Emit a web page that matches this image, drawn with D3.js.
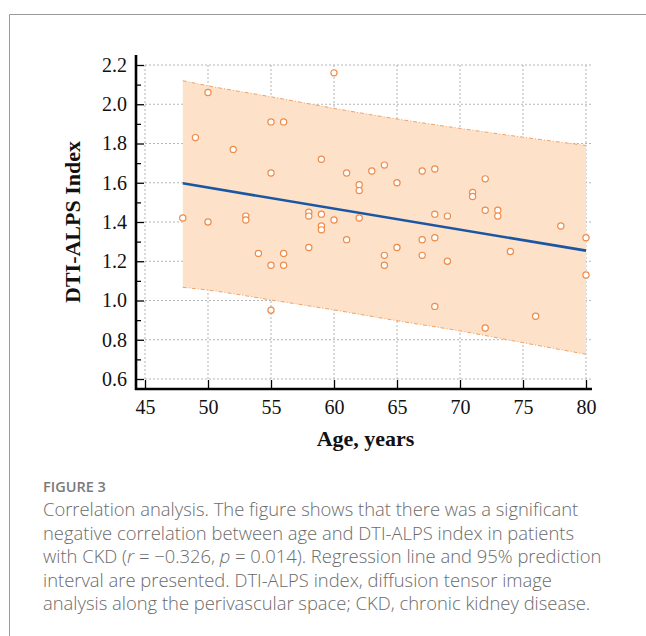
<!DOCTYPE html>
<html>
<head>
<meta charset="utf-8">
<script src="https://cdn.jsdelivr.net/npm/d3@7"></script>
<style>
  body { margin: 0; background: #fff; }
  #chart { width: 646px; height: 636px; }
  .caption { font-family: "Open Sans", "Noto Sans", sans-serif; fill: #6b6b6b; }
  .serif { font-family: "Liberation Serif", "Times New Roman", serif; }
</style>
</head>
<body>
<div id="chart"></div>
<script>
// data (age in years, DTI-ALPS index)
const ages = [48, 49, 50, 50, 52, 53, 53, 54, 55, 55, 55, 55, 56, 56, 56, 58, 58, 58, 59, 59,
  59, 59, 60, 60, 61, 61, 62, 62, 62, 63, 64, 64, 64, 65, 65, 67, 67, 67, 68, 68,
  68, 68, 69, 69, 71, 71, 72, 72, 72, 73, 73, 74, 76, 78, 80, 80]
const alps = [1.42, 1.83, 2.06, 1.40, 1.77, 1.43, 1.41, 1.24, 1.91, 1.65, 1.18, 0.95, 1.91, 1.24, 1.18, 1.45, 1.43, 1.27, 1.72, 1.44,
  1.38, 1.36, 2.16, 1.41, 1.65, 1.31, 1.59, 1.56, 1.42, 1.66, 1.69, 1.23, 1.18, 1.60, 1.27, 1.66, 1.31, 1.23, 1.67, 1.44,
  1.32, 0.97, 1.43, 1.20, 1.55, 1.53, 1.62, 1.46, 0.86, 1.46, 1.43, 1.25, 0.92, 1.38, 1.32, 1.13]

// regression line and 95% prediction band
const fitAges = [48, 80]
const fitValues = [1.597, 1.254]
const bandAges = [48, 50, 55, 60, 65, 70, 75, 80]
const bandUpper = [2.12, 2.094, 2.038, 1.979, 1.925, 1.877, 1.832, 1.79]
const bandLower = [1.067, 1.053, 1.003, 0.952, 0.897, 0.845, 0.785, 0.726]

// ticks
const xTicks = [45, 50, 55, 60, 65, 70, 75, 80]
const yTicks = [0.6, 0.8, 1.0, 1.2, 1.4, 1.6, 1.8, 2.0, 2.2]
const yMinorTicks = [0.7, 0.9, 1.1, 1.3, 1.5, 1.7, 1.9, 2.1]

const captionTitle = 'FIGURE 3'
const captionLines = [
  'Correlation analysis. The figure shows that there was a significant',
  'negative correlation between age and DTI-ALPS index in patients',
  'with CKD (<i>r</i> = \u22120.326, <i>p</i> = 0.014). Regression line and 95% prediction',
  'interval are presented. DTI-ALPS index, diffusion tensor image',
  'analysis along the perivascular space; CKD, chronic kidney disease.'
]

function draw() {
  const dataset = ages.map((a, i) => ({ age: a, alps: alps[i] }))
  const band = bandAges.map((a, i) => ({ age: a, hi: bandUpper[i], lo: bandLower[i] }))
  const fit = fitAges.map((a, i) => ({ age: a, v: fitValues[i] }))

  const xAccessor = d => d.age
  const yAccessor = d => d.alps

  let dimensions = {
    width: 646,
    height: 636,
    margin: { top: 65, right: 60, bottom: 257, left: 145 }
  }
  dimensions.ctrWidth = dimensions.width - dimensions.margin.left - dimensions.margin.right
  dimensions.ctrHeight = dimensions.height - dimensions.margin.top - dimensions.margin.bottom

  const svg = d3.select('#chart')
    .append('svg')
    .attr('width', dimensions.width)
    .attr('height', dimensions.height)

  // frame around the figure
  svg.append('path')
    .attr('d', 'M9.5,636 V14.5 H646')
    .attr('fill', 'none')
    .attr('stroke', '#9a9a9a')
    .attr('stroke-width', 1)

  const ctr = svg.append('g')
    .attr('transform', `translate(${dimensions.margin.left}, ${dimensions.margin.top})`)

  // scales
  const xScale = d3.scaleLinear()
    .domain([45, 80])
    .range([0, dimensions.ctrWidth])
  const yScale = d3.scaleLinear()
    .domain([0.6, 2.2])
    .range([dimensions.ctrHeight, 0])

  // grid
  const grid = ctr.append('g')
    .attr('stroke', '#b5b5b5')
    .attr('stroke-width', 1)
    .attr('stroke-dasharray', '2,2')
  grid.selectAll('.vgrid')
    .data(xTicks)
    .join('line')
    .attr('x1', d => xScale(d)).attr('x2', d => xScale(d))
    .attr('y1', yScale(2.2)).attr('y2', yScale(0.6))
  grid.selectAll('.hgrid')
    .data(yTicks)
    .join('line')
    .attr('x1', xScale(45)).attr('x2', xScale(80) + 6)
    .attr('y1', d => yScale(d)).attr('y2', d => yScale(d))

  // prediction band
  const area = d3.area()
    .x(d => xScale(d.age))
    .y0(d => yScale(d.lo))
    .y1(d => yScale(d.hi))
    .curve(d3.curveMonotoneX)
  ctr.append('path')
    .datum(band)
    .attr('d', area)
    .attr('fill', '#fde2c9')

  const edge = (acc) => d3.line().x(d => xScale(d.age)).y(d => yScale(acc(d))).curve(d3.curveMonotoneX)
  ctr.append('path')
    .datum(band)
    .attr('d', edge(d => d.hi))
    .attr('fill', 'none')
    .attr('stroke', '#f2a266')
    .attr('stroke-width', 1)
    .attr('stroke-dasharray', '4,2,1,2')
  ctr.append('path')
    .datum(band)
    .attr('d', edge(d => d.lo))
    .attr('fill', 'none')
    .attr('stroke', '#f2a266')
    .attr('stroke-width', 1)
    .attr('stroke-dasharray', '4,2,1,2')

  // regression line
  ctr.append('path')
    .datum(fit)
    .attr('d', d3.line().x(d => xScale(d.age)).y(d => yScale(d.v)))
    .attr('fill', 'none')
    .attr('stroke', '#1b56a2')
    .attr('stroke-width', 2.6)

  // draw circles
  ctr.selectAll('circle')
    .data(dataset)
    .join('circle')
    .attr('cx', d => xScale(xAccessor(d)))
    .attr('cy', d => yScale(yAccessor(d)))
    .attr('r', 3.1)
    .attr('fill', '#fff')
    .attr('stroke', '#f08a48')
    .attr('stroke-width', 1.2)

  // axes
  const xAxis = d3.axisBottom(xScale)
    .tickValues(xTicks)
    .tickSizeInner(-9)
    .tickSizeOuter(0)
    .tickPadding(11)
    .tickFormat(d3.format('d'))
  const xAxisGroup = ctr.append('g')
    .call(xAxis)
    .attr('transform', `translate(0, ${dimensions.ctrHeight + 10})`)
    .attr('font-family', null)
    .attr('font-size', null)
    .classed('serif', true)
  xAxisGroup.select('.domain').remove()
  xAxisGroup.selectAll('.tick line').attr('stroke', '#000').attr('stroke-width', 1.3)
  xAxisGroup.selectAll('.tick text')
    .style('font-size', '20px')
    .attr('fill', '#111')
  xAxisGroup.append('line')
    .attr('x1', -10).attr('x2', dimensions.ctrWidth + 6)
    .attr('stroke', '#000').attr('stroke-width', 2.6)

  xAxisGroup.append('text')
    .attr('x', dimensions.ctrWidth / 2)
    .attr('y', 57)
    .attr('fill', '#111')
    .style('font-size', '22px')
    .style('font-weight', 'bold')
    .style('text-anchor', 'middle')
    .text('Age, years')

  const yAxis = d3.axisLeft(yScale)
    .tickValues(yTicks)
    .tickSizeInner(-8)
    .tickSizeOuter(0)
    .tickPadding(9)
    .tickFormat(d3.format('.1f'))
  const yAxisGroup = ctr.append('g')
    .call(yAxis)
    .attr('transform', 'translate(-9, 0)')
    .attr('font-family', null)
    .attr('font-size', null)
    .classed('serif', true)
  yAxisGroup.select('.domain').remove()
  yAxisGroup.selectAll('.tick line').attr('stroke', '#000').attr('stroke-width', 1.3)
  yAxisGroup.selectAll('.tick text')
    .style('font-size', '20px')
    .attr('fill', '#111')

  const yMinor = d3.axisLeft(yScale)
    .tickValues(yMinorTicks)
    .tickSizeInner(-5)
    .tickSizeOuter(0)
    .tickFormat('')
  const yMinorGroup = ctr.append('g')
    .call(yMinor)
    .attr('transform', 'translate(-9, 0)')
  yMinorGroup.select('.domain').remove()
  yMinorGroup.selectAll('.tick line').attr('stroke', '#000').attr('stroke-width', 1.3)

  yAxisGroup.append('line')
    .attr('y1', -10).attr('y2', dimensions.ctrHeight + 11)
    .attr('stroke', '#000').attr('stroke-width', 2.6)

  yAxisGroup.append('text')
    .attr('x', -dimensions.ctrHeight / 2)
    .attr('y', -56)
    .attr('fill', '#111')
    .style('font-size', '22px')
    .style('font-weight', 'bold')
    .attr('transform', 'rotate(-90)')
    .style('text-anchor', 'middle')
    .text('DTI-ALPS Index')

  // caption
  const cap = svg.append('g').attr('class', 'caption')
  cap.append('text')
    .attr('x', 43)
    .attr('y', 492)
    .attr('font-size', 14.5)
    .attr('font-weight', 600)
    .attr('fill', '#7a7a7a')
    .text(captionTitle)
  cap.selectAll('.line')
    .data(captionLines)
    .join('text')
    .attr('x', 43)
    .attr('y', (d, i) => 516 + i * 23.5)
    .attr('font-size', 18.4)
    .attr('font-weight', 300)
    .html(d => d.replace(/<i>(.*?)<\/i>/g, '<tspan font-style="italic">$1</tspan>'))
}

draw()
</script>
</body>
</html>
